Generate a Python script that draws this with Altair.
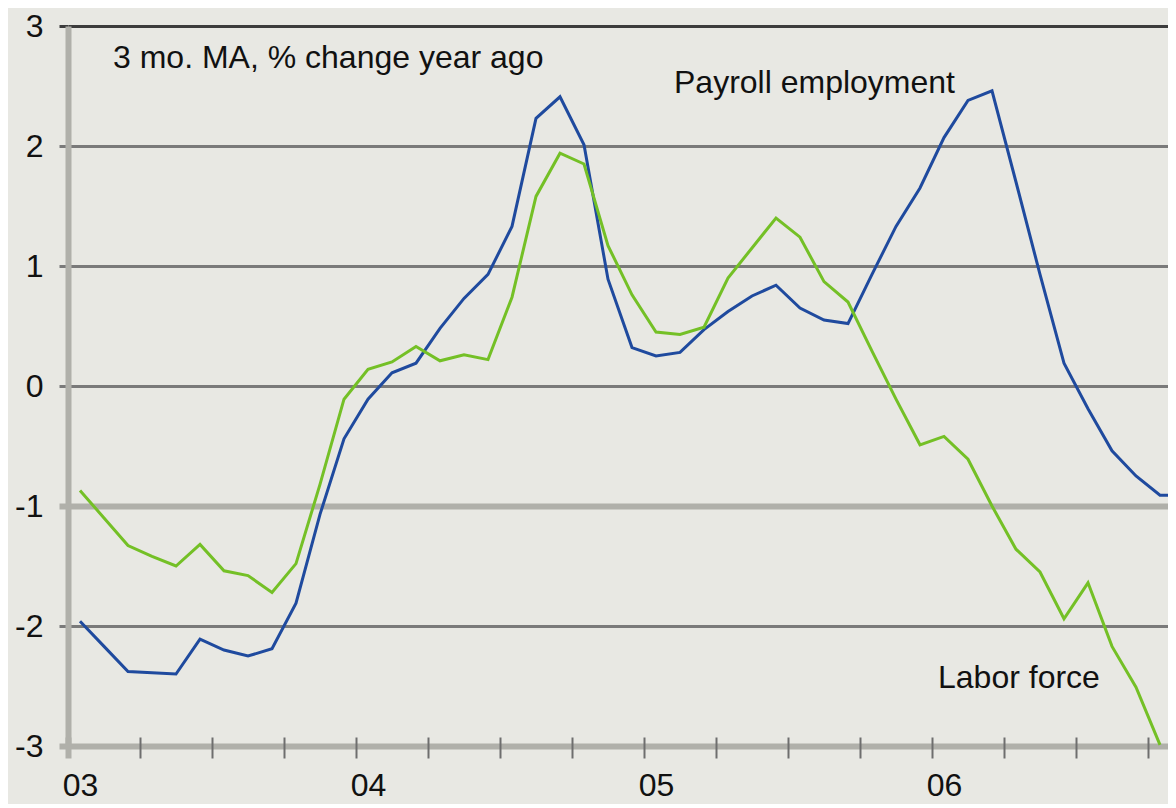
import altair as alt
import pandas as pd

# ---- data (3 mo. MA, % change year ago) ----
months = [f"{y}-{m:02d}" for y in (2003, 2004, 2005, 2006) for m in range(1, 13)]

payroll = [
    -1.96, -2.17, -2.38, -2.39, -2.40, -2.11, -2.20, -2.25, -2.19, -1.81, -1.07, -0.44,
    -0.11, 0.11, 0.19, 0.48, 0.73, 0.93, 1.33, 2.23, 2.41, 2.01, 0.89, 0.32,
    0.25, 0.28, 0.47, 0.62, 0.75, 0.84, 0.65, 0.55, 0.52, 0.93, 1.33, 1.65,
    2.07, 2.38, 2.46, 1.70, 0.93, 0.19, -0.19, -0.54, -0.75, -0.91, -0.91,
]
labor_force = [
    -0.87, -1.10, -1.33, -1.42, -1.50, -1.32, -1.54, -1.58, -1.72, -1.48, -0.82, -0.11,
    0.14, 0.20, 0.33, 0.21, 0.26, 0.22, 0.74, 1.58, 1.94, 1.85, 1.17, 0.76,
    0.45, 0.43, 0.49, 0.90, 1.15, 1.40, 1.24, 0.87, 0.70, 0.29, -0.11, -0.49,
    -0.42, -0.61, -1.00, -1.36, -1.55, -1.94, -1.64, -2.17, -2.51, -2.99,
]
series_names = ["Payroll employment", "Labor force"]
series_colors = ["#1f4a9e", "#74c026"]
y_ticks = [-3, -2, -1, 0, 1, 2, 3]


def month_pos(label):
    y, m = label.split("-")
    return (int(y) - 2003) * 12 + int(m) - 1 + 0.5


rows = []
for name, vals in zip(series_names, [payroll, labor_force]):
    for mo, v in zip(months, vals):
        rows.append({"series": name, "month": mo, "t": month_pos(mo), "value": v})
df = pd.DataFrame(rows)

PLOT_W = 1100
PLOT_H = 720
FONT = "Liberation Sans"
BG = "#e8e8e3"
LIGHT = "#b0b0aa"
MID = "#7a7a7a"
DARK = "#3c3c3c"

grid_color = {
    "condition": [
        {"test": "datum.value == 3", "value": DARK},
        {"test": "datum.value == -1 || datum.value == -3", "value": LIGHT},
    ],
    "value": MID,
}
grid_width = {
    "condition": [
        {"test": "datum.value == -1 || datum.value == -3", "value": 6},
    ],
    "value": 3,
}

y_axis = alt.Axis(
    values=y_ticks,
    title=None,
    grid=True,
    gridColor=grid_color,
    gridWidth=grid_width,
    gridOpacity=1,
    ticks=True,
    tickSize=9,
    tickColor=grid_color,
    tickWidth=grid_width,
    domain=True,
    domainColor=LIGHT,
    domainWidth=6,
    labelFont=FONT,
    labelFontSize=32,
    labelColor="#111111",
    labelPadding=16,
    labelExpr="datum.value < 0 ? '-' + (-datum.value) : '' + datum.value",
)

x_axis = alt.Axis(
    values=list(range(0, 46, 3)),
    title=None,
    grid=False,
    domain=False,
    offset=-9,
    ticks=True,
    tickSize=21,
    tickColor={"condition": {"test": "datum.value == 0", "value": LIGHT}, "value": "#6e6e6e"},
    tickWidth={"condition": {"test": "datum.value == 0", "value": 6}, "value": 2},
    labelFont=FONT,
    labelFontSize=32,
    labelColor="#111111",
    labelAlign="center",
    labelBaseline="alphabetic",
    labelOffset=12,
    labelPadding=37,
    labelFlush=False,
    labelOverlap=False,
    labelExpr="datum.value % 12 == 0 ? '0' + (3 + datum.value / 12) : ''",
)

lines = alt.Chart(df).mark_line(strokeWidth=3, clip=True).encode(
    x=alt.X("t:Q", scale=alt.Scale(domain=[0, PLOT_W / 24], nice=False, zero=False), axis=x_axis),
    y=alt.Y("value:Q", scale=alt.Scale(domain=[-3, 3], nice=False, zero=False), axis=y_axis),
    color=alt.Color("series:N", scale=alt.Scale(domain=series_names, range=series_colors), legend=None),
    order=alt.Order("t:Q"),
)


def label(text, px, py):
    return alt.Chart(pd.DataFrame({"txt": [text]})).mark_text(
        align="left", baseline="alphabetic", font=FONT, fontSize=32, color="#111111"
    ).encode(x=alt.value(px), y=alt.value(py), text="txt:N")


chart = alt.layer(
    lines,
    label("3 mo. MA, % change year ago", 45, 42),
    label("Payroll employment", 606, 67),
    label("Labor force", 870, 662),
).properties(
    width=PLOT_W,
    height=PLOT_H,
    padding={"left": 60, "top": 18, "right": 0, "bottom": 58},
    autosize=alt.AutoSizeParams(type="none"),
    background=BG,
).configure_view(stroke=None, fill=BG)

chart.save("out.html", embed_options={"renderer": "svg", "actions": False})
